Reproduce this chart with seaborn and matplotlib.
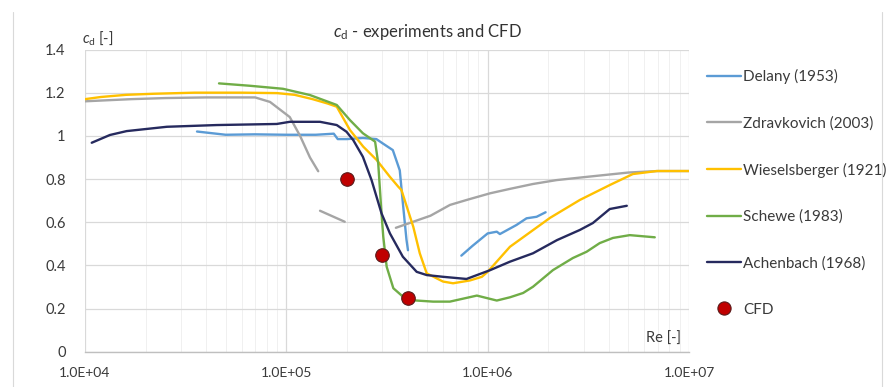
import numpy as np
import pandas as pd
import matplotlib
matplotlib.use("Agg")
import matplotlib.pyplot as plt
import seaborn as sns
from matplotlib.ticker import FixedLocator, FixedFormatter, LogLocator, NullFormatter
from matplotlib.lines import Line2D

# ---------------- data ----------------
delany_re_1 = [3.6e4, 5.0e4, 7.0e4, 1.0e5, 1.4e5, 1.72e5, 1.8e5, 2.0e5, 2.4e5, 2.8e5, 3.0e5,
               3.38e5, 3.66e5, 3.79e5, 3.95e5, 4.02e5]
delany_cd_1 = [1.02, 1.005, 1.007, 1.005, 1.005, 1.01, 0.985, 0.985, 0.99, 0.985, 0.966,
               0.934, 0.84, 0.69, 0.52, 0.47]
delany_re_2 = [7.4e5, 8.4e5, 1.0e6, 1.11e6, 1.15e6, 1.39e6, 1.56e6, 1.75e6, 1.94e6]
delany_cd_2 = [0.445, 0.49, 0.548, 0.556, 0.545, 0.587, 0.618, 0.625, 0.646]

zdrav_re_1 = [1.0e4, 1.3e4, 1.7e4, 2.5e4, 4.0e4, 7.0e4, 8.3e4, 1.04e5, 1.17e5, 1.31e5, 1.44e5]
zdrav_cd_1 = [1.16, 1.165, 1.17, 1.175, 1.178, 1.178, 1.157, 1.087, 1.0, 0.9, 0.836]
zdrav_re_2 = [1.47e5, 1.95e5]
zdrav_cd_2 = [0.653, 0.602]
zdrav_re_3 = [3.5e5, 5.2e5, 6.5e5, 8.0e5, 1.03e6, 1.3e6, 1.68e6, 2.2e6, 3.11e6, 5.0e6, 7.0e6, 1.0e7]
zdrav_cd_3 = [0.574, 0.63, 0.68, 0.705, 0.734, 0.755, 0.777, 0.795, 0.81, 0.83, 0.837, 0.837]

wiesel_re = [1.0e4, 1.2e4, 1.6e4, 2.2e4, 3.5e4, 6.0e4, 9.0e4, 1.1e5, 1.35e5, 1.6e5, 1.78e5,
             2.07e5, 2.41e5, 2.81e5, 3.27e5, 3.6e5, 3.73e5, 4.27e5, 4.6e5, 4.98e5, 6.0e5,
             6.73e5, 8.16e5, 9.36e5, 1.0e6, 1.29e6, 2.04e6, 2.87e6, 4.04e6, 5.26e6, 6.92e6, 1.0e7]
wiesel_cd = [1.17, 1.18, 1.19, 1.195, 1.2, 1.2, 1.198, 1.19, 1.17, 1.15, 1.135,
             1.027, 0.95, 0.888, 0.81, 0.764, 0.749, 0.579, 0.456, 0.363, 0.325,
             0.317, 0.33, 0.347, 0.37, 0.486, 0.62, 0.703, 0.772, 0.823, 0.837, 0.837]

schewe_re = [4.63e4, 6.59e4, 9.62e4, 1.31e5, 1.78e5, 2.07e5, 2.40e5, 2.76e5, 2.86e5, 2.97e5,
             3.03e5, 3.15e5, 3.40e5, 3.96e5, 5.36e5, 6.49e5, 8.84e5, 1.11e6, 1.29e6, 1.50e6,
             1.68e6, 2.11e6, 2.65e6, 3.10e6, 3.6e6, 4.19e6, 5.08e6, 6.76e6]
schewe_cd = [1.243, 1.232, 1.218, 1.189, 1.143, 1.073, 1.012, 0.973, 0.873, 0.641,
             0.533, 0.394, 0.294, 0.24, 0.232, 0.232, 0.26, 0.237, 0.252, 0.272,
             0.301, 0.378, 0.434, 0.463, 0.503, 0.527, 0.54, 0.53]

achen_re = [1.08e4, 1.33e4, 1.61e4, 2.55e4, 4.51e4, 8.96e4, 1.04e5, 1.47e5, 1.78e5, 1.99e5,
            2.15e5, 2.40e5, 2.65e5, 2.97e5, 3.27e5, 3.79e5, 4.44e5, 4.98e5, 6.0e5, 7.85e5,
            1.03e6, 1.29e6, 1.68e6, 2.21e6, 2.87e6, 3.33e6, 4.04e6, 4.91e6]
achen_cd = [0.968, 1.004, 1.022, 1.042, 1.05, 1.055, 1.065, 1.065, 1.05, 1.019,
            0.98, 0.903, 0.795, 0.641, 0.548, 0.44, 0.37, 0.355, 0.347, 0.337,
            0.378, 0.417, 0.456, 0.517, 0.564, 0.596, 0.661, 0.676]

cfd_re = [2.0e5, 3.0e5, 4.0e5]
cfd_cd = [0.80, 0.45, 0.25]

x_tick_values = [1e4, 1e5, 1e6, 1e7]
x_tick_labels = ["1.0E+04", "1.0E+05", "1.0E+06", "1.0E+07"]
y_tick_values = [0, 0.2, 0.4, 0.6, 0.8, 1.0, 1.2, 1.4]
y_tick_labels = ["0", "0.2", "0.4", "0.6", "0.8", "1", "1.2", "1.4"]

series_names = ["Delany (1953)", "Zdravkovich (2003)", "Wieselsberger (1921)",
                "Schewe (1983)", "Achenbach (1968)", "CFD"]

# ---------------- style ----------------
sns.set_theme(style="white")
plt.rcParams["font.family"] = ["Lato", "DejaVu Sans"]
plt.rcParams["mathtext.fontset"] = "custom"
plt.rcParams["mathtext.rm"] = "Lato"
plt.rcParams["mathtext.it"] = "Lato:italic"

TXT = "#3a3a3a"
colors = {
    "Delany (1953)": "#5B9BD5",
    "Zdravkovich (2003)": "#A5A5A5",
    "Wieselsberger (1921)": "#FFC000",
    "Schewe (1983)": "#70AD47",
    "Achenbach (1968)": "#262A5E",
    "CFD": "#C00000",
}

fig = plt.figure(figsize=(8.88, 3.87), dpi=100)
ax = fig.add_axes([85 / 888, 1 - 351.7 / 387, 604 / 888, 302.2 / 387])

lw = 1.7
segments = [
    ("Delany (1953)", delany_re_1, delany_cd_1),
    ("Delany (1953)", delany_re_2, delany_cd_2),
    ("Zdravkovich (2003)", zdrav_re_1, zdrav_cd_1),
    ("Zdravkovich (2003)", zdrav_re_2, zdrav_cd_2),
    ("Zdravkovich (2003)", zdrav_re_3, zdrav_cd_3),
    ("Wieselsberger (1921)", wiesel_re, wiesel_cd),
    ("Schewe (1983)", schewe_re, schewe_cd),
    ("Achenbach (1968)", achen_re, achen_cd),
]
for name, xs, ys in segments:
    df = pd.DataFrame({"Re": xs, "cd": ys})
    sns.lineplot(data=df, x="Re", y="cd", ax=ax, color=colors[name], lw=lw,
                 sort=False, estimator=None, legend=False,
                 zorder=3 if name != "Achenbach (1968)" else 4)

df_cfd = pd.DataFrame({"Re": cfd_re, "cd": cfd_cd})
sns.scatterplot(data=df_cfd, x="Re", y="cd", ax=ax, color=colors["CFD"], s=95,
                edgecolor="#5a1a1a", linewidth=0.8, zorder=5, legend=False)

ax.set_xscale("log")
ax.set_xlim(1e4, 1e7)
ax.set_ylim(0, 1.4)
ax.xaxis.set_major_locator(FixedLocator(x_tick_values))
ax.xaxis.set_major_formatter(FixedFormatter(x_tick_labels))
ax.xaxis.set_minor_locator(LogLocator(base=10, subs=np.arange(2, 10)))
ax.xaxis.set_minor_formatter(NullFormatter())
ax.yaxis.set_major_locator(FixedLocator(y_tick_values))
ax.yaxis.set_major_formatter(FixedFormatter(y_tick_labels))

ax.grid(which="major", color="#D9D9D9", lw=0.9)
ax.grid(which="minor", axis="x", color="#F0F0F0", lw=0.7)
ax.set_axisbelow(True)
for s in ["top", "right", "left"]:
    ax.spines[s].set_visible(False)
ax.spines["bottom"].set_color("#BFBFBF")
ax.spines["bottom"].set_linewidth(1.0)

ax.tick_params(axis="x", which="major", direction="out", length=5, width=0.8,
               color="#BFBFBF", pad=6, labelsize=10, labelcolor=TXT)
ax.tick_params(axis="x", which="minor", direction="out", length=4, width=0.7,
               color="#D0D0D0")
ax.tick_params(axis="y", which="major", length=0, pad=14, labelsize=10.5, labelcolor=TXT)
ax.set_xlabel("")
ax.set_ylabel("")

ax.text(0.987, 0.042, "Re [-]", transform=ax.transAxes, ha="right", va="center",
        fontsize=10.5, color=TXT)
fig.text(82 / 888, 1 - 38 / 387, r"$c_{\rm d}$ [-]", ha="left", va="center",
         fontsize=10.5, color=TXT)
fig.text(427 / 888, 1 - 32 / 387, r"$c_{\rm d}$ - experiments and CFD", ha="center",
         va="center", fontsize=12, color="#333333")

# chart border lines (left / right)
fig.add_artist(Line2D([13 / 888, 13 / 888], [0, 1 - 12 / 387], transform=fig.transFigure,
                      color="#D9D9D9", lw=0.8))
fig.add_artist(Line2D([882 / 888, 882 / 888], [0, 1 - 12 / 387], transform=fig.transFigure,
                      color="#D9D9D9", lw=0.8))

handles = []
for name in series_names:
    if name == "CFD":
        handles.append(Line2D([], [], ls="none", marker="o", markersize=9.5,
                              markerfacecolor=colors[name], markeredgecolor="#5a1a1a",
                              markeredgewidth=0.8))
    else:
        handles.append(Line2D([], [], color=colors[name], lw=lw))
leg = fig.legend(handles, series_names, loc="upper left",
                 bbox_to_anchor=(707 / 888, 1 - 69 / 387), frameon=False,
                 fontsize=11, handlelength=2.2, handletextpad=0.15,
                 labelspacing=2.1, borderaxespad=0, borderpad=0)
for t in leg.get_texts():
    t.set_color(TXT)

fig.savefig("out.png", dpi=100)
